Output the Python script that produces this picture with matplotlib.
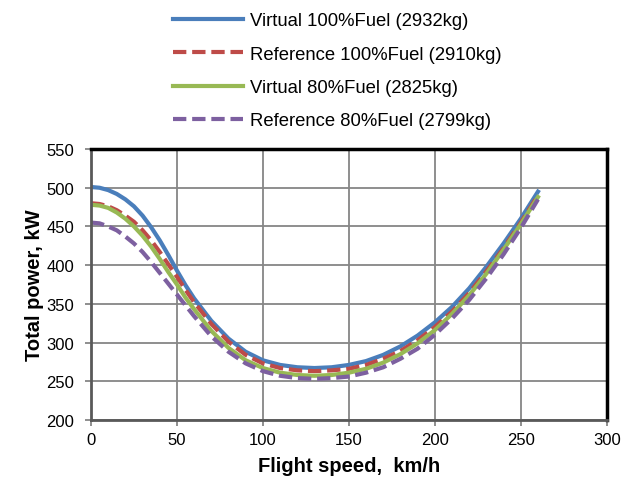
import matplotlib
matplotlib.use("Agg")
import matplotlib.pyplot as plt

plt.rcParams['font.family'] = ['Liberation Sans', 'DejaVu Sans']

# Flight speed, km/h
speed = [0, 5, 10, 15, 20, 25, 30, 35, 40, 45, 50, 55, 60, 70, 80, 90, 100, 110, 120, 130,
         140, 150, 160, 170, 180, 190, 200, 210, 220, 230, 240, 250, 260]

# Total power, kW
virtual_100 = [501, 500, 497, 492, 485, 476, 464, 449, 432, 413, 393, 374, 357,
               328, 305, 288, 277, 271, 268, 267,
               268, 271, 276, 284, 295, 309, 326, 346, 370, 398, 428, 460, 495]
reference_100 = [480, 479, 476, 471, 464, 456, 445, 432, 417, 401, 385, 368, 352,
                 324, 301, 284, 273, 267, 264, 263,
                 264, 266, 271, 279, 289, 303, 320, 340, 364, 392, 422, 455, 490]
virtual_80 = [478, 477, 474, 468, 460, 450, 438, 424, 408, 391, 375, 358, 343,
              315, 293, 277, 267, 261, 258, 257,
              258, 261, 266, 274, 285, 299, 316, 337, 361, 389, 420, 453, 488]
reference_80 = [455, 454, 450, 445, 437, 428, 417, 404, 390, 376, 362, 348, 334,
                308, 288, 273, 263, 257, 254, 253,
                254, 256, 261, 268, 279, 292, 310, 331, 355, 383, 414, 448, 485]

labels = ['Virtual 100%Fuel (2932kg)', 'Reference 100%Fuel (2910kg)',
          'Virtual 80%Fuel (2825kg)', 'Reference 80%Fuel (2799kg)']

fig = plt.figure(figsize=(6.34, 4.81), dpi=100)
ax = fig.add_axes([0.1435, 0.125, 0.8135, 0.563])

dash = (0, (3.2, 1.4))
ax.plot(speed, virtual_100, color='#4a7ebb', lw=3, label=labels[0])
ax.plot(speed, reference_100, color='#be4b48', lw=3, ls=dash, label=labels[1])
ax.plot(speed, virtual_80, color='#98b954', lw=3, label=labels[2])
ax.plot(speed, reference_80, color='#7d60a0', lw=3, ls=dash, label=labels[3])

ax.set_xlim(0, 300)
ax.set_ylim(200, 550)
ax.set_xticks(range(0, 301, 50))
ax.set_yticks(range(200, 551, 50))
ax.grid(True, color='#868686', lw=1.3)
ax.set_axisbelow(True)
ax.tick_params(labelsize=12, direction='out', length=4, width=1.3, color='#868686', pad=5)
ax.tick_params(axis='y', pad=8)

for s in ['top', 'right']:
    ax.spines[s].set_linewidth(2.5)
    ax.spines[s].set_color('black')
for s in ['left', 'bottom']:
    ax.spines[s].set_linewidth(2)
    ax.spines[s].set_color('#595959')

ax.set_xlabel('Flight speed,  km/h', fontsize=14.5, fontweight='bold', labelpad=6)
ax.set_ylabel('Total power, kW', fontsize=14.5, fontweight='bold', labelpad=2)

fig.legend(loc='upper left', bbox_to_anchor=(0.273, 0.972), frameon=False,
           borderpad=0, borderaxespad=0,
           fontsize=13.3, handlelength=3.8, handletextpad=0.35, labelspacing=0.88)

fig.savefig('out.png', dpi=100)
